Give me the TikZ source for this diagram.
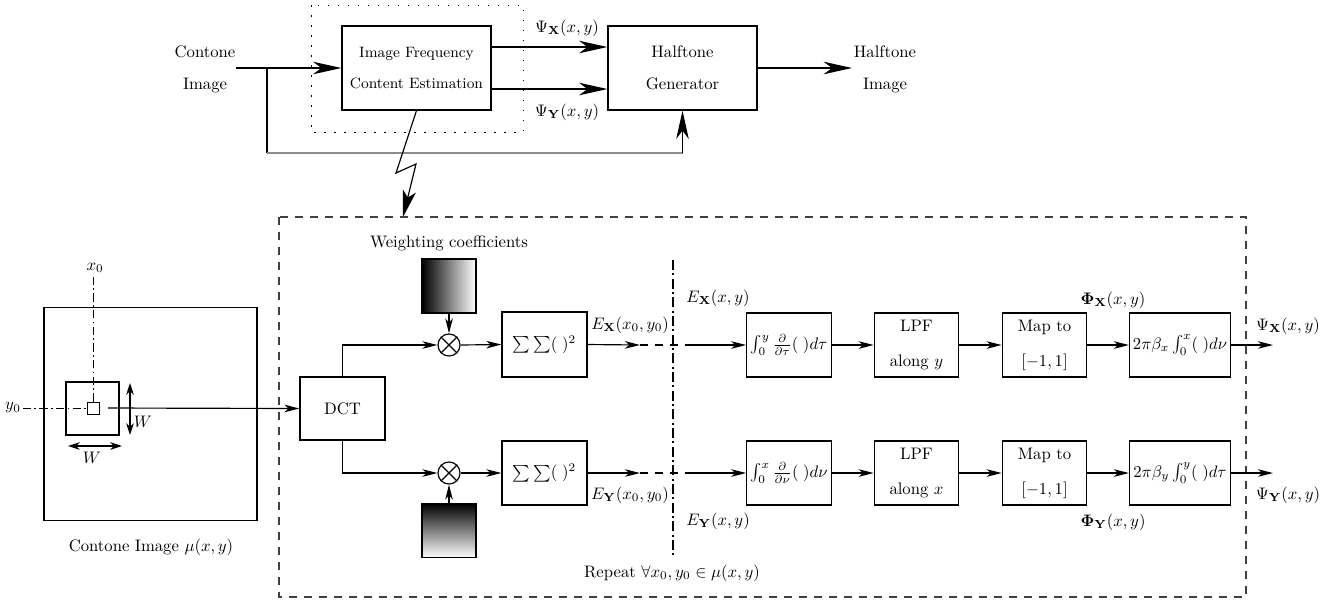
\documentclass[tikz,border=0pt]{standalone}
\usepackage{amsmath}
\usetikzlibrary{arrows.meta,calc}
\begin{document}
\begin{tikzpicture}[x=0.6pt,y=-0.6pt,
  box/.style={draw, line width=0.7pt, inner sep=1pt, align=center},
  bigarr/.style={-{Stealth[length=17pt,width=7.5pt,inset=5pt]}, line width=1pt},
  smarr/.style={-{Stealth[length=9pt,width=4.5pt,inset=2.5pt]}, line width=0.7pt},
  warr/.style={{Stealth[length=7pt,width=4.5pt,inset=2pt]}-{Stealth[length=7pt,width=4.5pt,inset=2pt]}, line width=0.8pt},
  rowbox/.style={box, minimum width=50.7pt, minimum height=38.4pt},
  mult/.style={draw, circle, line width=0.7pt, minimum size=13.2pt, inner sep=0pt},
  grad/.style={draw, line width=0.7pt, minimum size=32.4pt, inner sep=0pt},
  dashdot/.style={line width=0.6pt, dash pattern=on 5pt off 2pt on 1pt off 2pt},
  lbl/.style={inner sep=1pt}
]
\useasboundingbox (0,0) rectangle (1340,601);

% ---------------- top part ----------------
\node[lbl, align=center] (cin) at (205,69) {Contone\\[7pt]Image};
\node[box, minimum width=89.4pt, minimum height=50.4pt, font=\small] (ifce) at (416.5,68)
  {Image Frequency\\[8pt]Content Estimation};
\node[box, minimum width=89.4pt, minimum height=50.4pt] (hg) at (682.5,68)
  {Halftone\\[7pt]Generator};
\node[lbl, align=center] (hout) at (885,69) {Halftone\\[7pt]Image};
\draw[line width=0.6pt, dash pattern=on 0.9pt off 5.1pt] (311,5) rectangle (523,132);

\coordinate (in0) at (236,68);
\coordinate (br) at (267,68);
\coordinate (fb1) at (267,153);
\coordinate (fb2) at (hg.south |- fb1);
\coordinate (hgo) at (852,68);
\draw[bigarr] (in0) -- (ifce.west);
\draw[line width=1pt] (br) -- (fb1);
\draw[line width=1pt, black!45] (fb1) -- (fb2);
\draw[bigarr] (fb2) -- (hg.south);
\draw[bigarr] ($(ifce.east)+(0,-21)$) -- ($(hg.west)+(0,-21)$);
\draw[bigarr] ($(ifce.east)+(0,21)$) -- ($(hg.west)+(0,21)$);
\draw[bigarr] (hg.east) -- (hgo);
\node[lbl] (psixt) at (567,28) {$\Psi_{\mathbf{X}}(x,y)$};
\node[lbl] (psiyt) at (567,112) {$\Psi_{\mathbf{Y}}(x,y)$};

% lightning connector
\coordinate (lz1) at (396,173);
\coordinate (lz2) at (416,164);
\coordinate (lz3) at (403,217);
\draw[line width=0.7pt, -{Stealth[length=16pt,width=8pt,inset=4pt]}] (ifce.south) -- (lz1) -- (lz2) -- (lz3);

% dashed enclosure
\draw[line width=0.8pt, black!75, dash pattern=on 5pt off 4pt] (279,217) rectangle (1246,597);

% ---------------- contone image ----------------
\node[draw, line width=0.7pt, minimum size=127.8pt, inner sep=0pt] (img) at (150.5,414) {};
\node[draw, line width=0.7pt, minimum size=31.8pt, inner sep=0pt] (win) at (92.5,408.5) {};
\node[draw, line width=0.6pt, minimum size=7.2pt, inner sep=0pt] (pix) at (93,408) {};
\node[lbl] (x0l) at (95,268) {$x_0$};
\node[lbl] (y0l) at (13,408) {$y_0$};
\draw[dashdot] (y0l.east) -- (pix.west);
\draw[dashdot] (pix.north) -- (pix.north |- x0l.south);
\coordinate (wv1) at (130,383);
\coordinate (wv2) at (130,435);
\draw[warr] (wv1) -- (wv2);
\node[lbl] (wvl) at (143,422) {$W$};
\coordinate (wh1) at (68,446);
\coordinate (wh2) at (122,446);
\draw[warr] (wh1) -- (wh2);
\node[lbl] (whl) at (92,458) {$W$};
\node[lbl] (imgl) at (151,547) {Contone Image $\mu(x,y)$};

% ---------------- DCT and weighting ----------------
\node[box, minimum width=51pt, minimum height=37.8pt] (dct) at (342.5,408.5) {DCT};
\coordinate (pixo) at (108,408);
\draw[smarr] (pixo) -- (dct.west);

\node[lbl] (wcl) at (449,243) {Weighting coefficients};
\node[grad, left color=black, right color=white] (g1) at (449,286) {};
\node[grad, top color=black, bottom color=white] (g2) at (449,530.5) {};
\node[mult] (m1) at (449,345) {};
\node[mult] (m2) at (449,473) {};
\foreach \m in {m1,m2}{
  \draw[line width=0.7pt] (\m.north west) -- (\m.south east);
  \draw[line width=0.7pt] (\m.north east) -- (\m.south west);
}
\draw[smarr] (dct.north) |- (m1.west);
\draw[smarr] (dct.south) |- (m2.west);
\draw[smarr] (g1.south) -- (m1.north);
\draw[smarr] (g2.north) -- (m2.south);

\node[rowbox, minimum width=51pt, minimum height=39pt] (s1) at (544.5,344.5) {$\sum\sum(\;)^2$};
\node[rowbox, minimum width=51pt, minimum height=38.4pt] (s2) at (544.5,473) {$\sum\sum(\;)^2$};
\draw[smarr] (m1.east) -- (s1.west);
\draw[smarr] (m2.east) -- (s2.west);

% ---------------- divider ----------------
\coordinate (dv1) at (673,260);
\coordinate (dv2) at (673,557);
\draw[line width=1.1pt, dash pattern=on 6pt off 2pt on 1.2pt off 2pt] (dv1) -- (dv2);
\node[lbl] (rep) at (672,573) {Repeat $\forall x_0, y_0 \in \mu(x,y)$};

% ---------------- processing rows ----------------
\node[rowbox] (a1) at (789,345) {$\int_0^y \frac{\partial}{\partial\tau}(\;)d\tau$};
\node[rowbox] (a2) at (916.5,345) {LPF\\[9pt]along $y$};
\node[rowbox] (a3) at (1044.5,345) {Map to\\[9pt]$[-1,1]$};
\node[rowbox, minimum width=60.6pt] (a4) at (1180,345) {$2\pi\beta_x\int_0^x(\;)d\nu$};
\node[rowbox] (b1) at (789,473) {$\int_0^x \frac{\partial}{\partial\nu}(\;)d\nu$};
\node[rowbox] (b2) at (916.5,473) {LPF\\[9pt]along $x$};
\node[rowbox] (b3) at (1044.5,473) {Map to\\[9pt]$[-1,1]$};
\node[rowbox, minimum width=60.6pt] (b4) at (1180,473) {$2\pi\beta_y\int_0^y(\;)d\tau$};

\coordinate (cx1) at (640,345);
\coordinate (cx2) at (693,345);
\coordinate (cy1) at (640,473);
\coordinate (cy2) at (693,473);
\draw[smarr] (s1.east) -- (cx1);
\draw[line width=0.7pt, dash pattern=on 5pt off 4pt] (cx1) -- (cx2);
\draw[smarr] (cx2) -- (a1.west);
\draw[smarr] (s2.east) -- (cy1);
\draw[line width=0.7pt, dash pattern=on 5pt off 4pt] (cy1) -- (cy2);
\draw[smarr] (cy2) -- (b1.west);

\draw[smarr] (a1) -- (a2);
\draw[smarr] (a2) -- (a3);
\draw[smarr] (a3) -- (a4);
\draw[smarr] (b1) -- (b2);
\draw[smarr] (b2) -- (b3);
\draw[smarr] (b3) -- (b4);
\coordinate (ox) at (1273,345);
\coordinate (oy) at (1273,473);
\draw[smarr] (a4.east) -- (ox);
\draw[smarr] (b4.east) -- (oy);

\node[lbl] (ex0) at (630,325) {$E_{\mathbf{X}}(x_0,y_0)$};
\node[lbl] (ey0) at (630,495) {$E_{\mathbf{Y}}(x_0,y_0)$};
\node[lbl] (exl) at (718,298) {$E_{\mathbf{X}}(x,y)$};
\node[lbl] (eyl) at (718,521) {$E_{\mathbf{Y}}(x,y)$};
\node[lbl] (phx) at (1113,300) {$\mathbf{\Phi}_{\mathbf{X}}(x,y)$};
\node[lbl] (phy) at (1113,522) {$\mathbf{\Phi}_{\mathbf{Y}}(x,y)$};
\node[lbl] (psx) at (1288,326) {$\Psi_{\mathbf{X}}(x,y)$};
\node[lbl] (psy) at (1288,495) {$\Psi_{\mathbf{Y}}(x,y)$};
\end{tikzpicture}
\end{document}
